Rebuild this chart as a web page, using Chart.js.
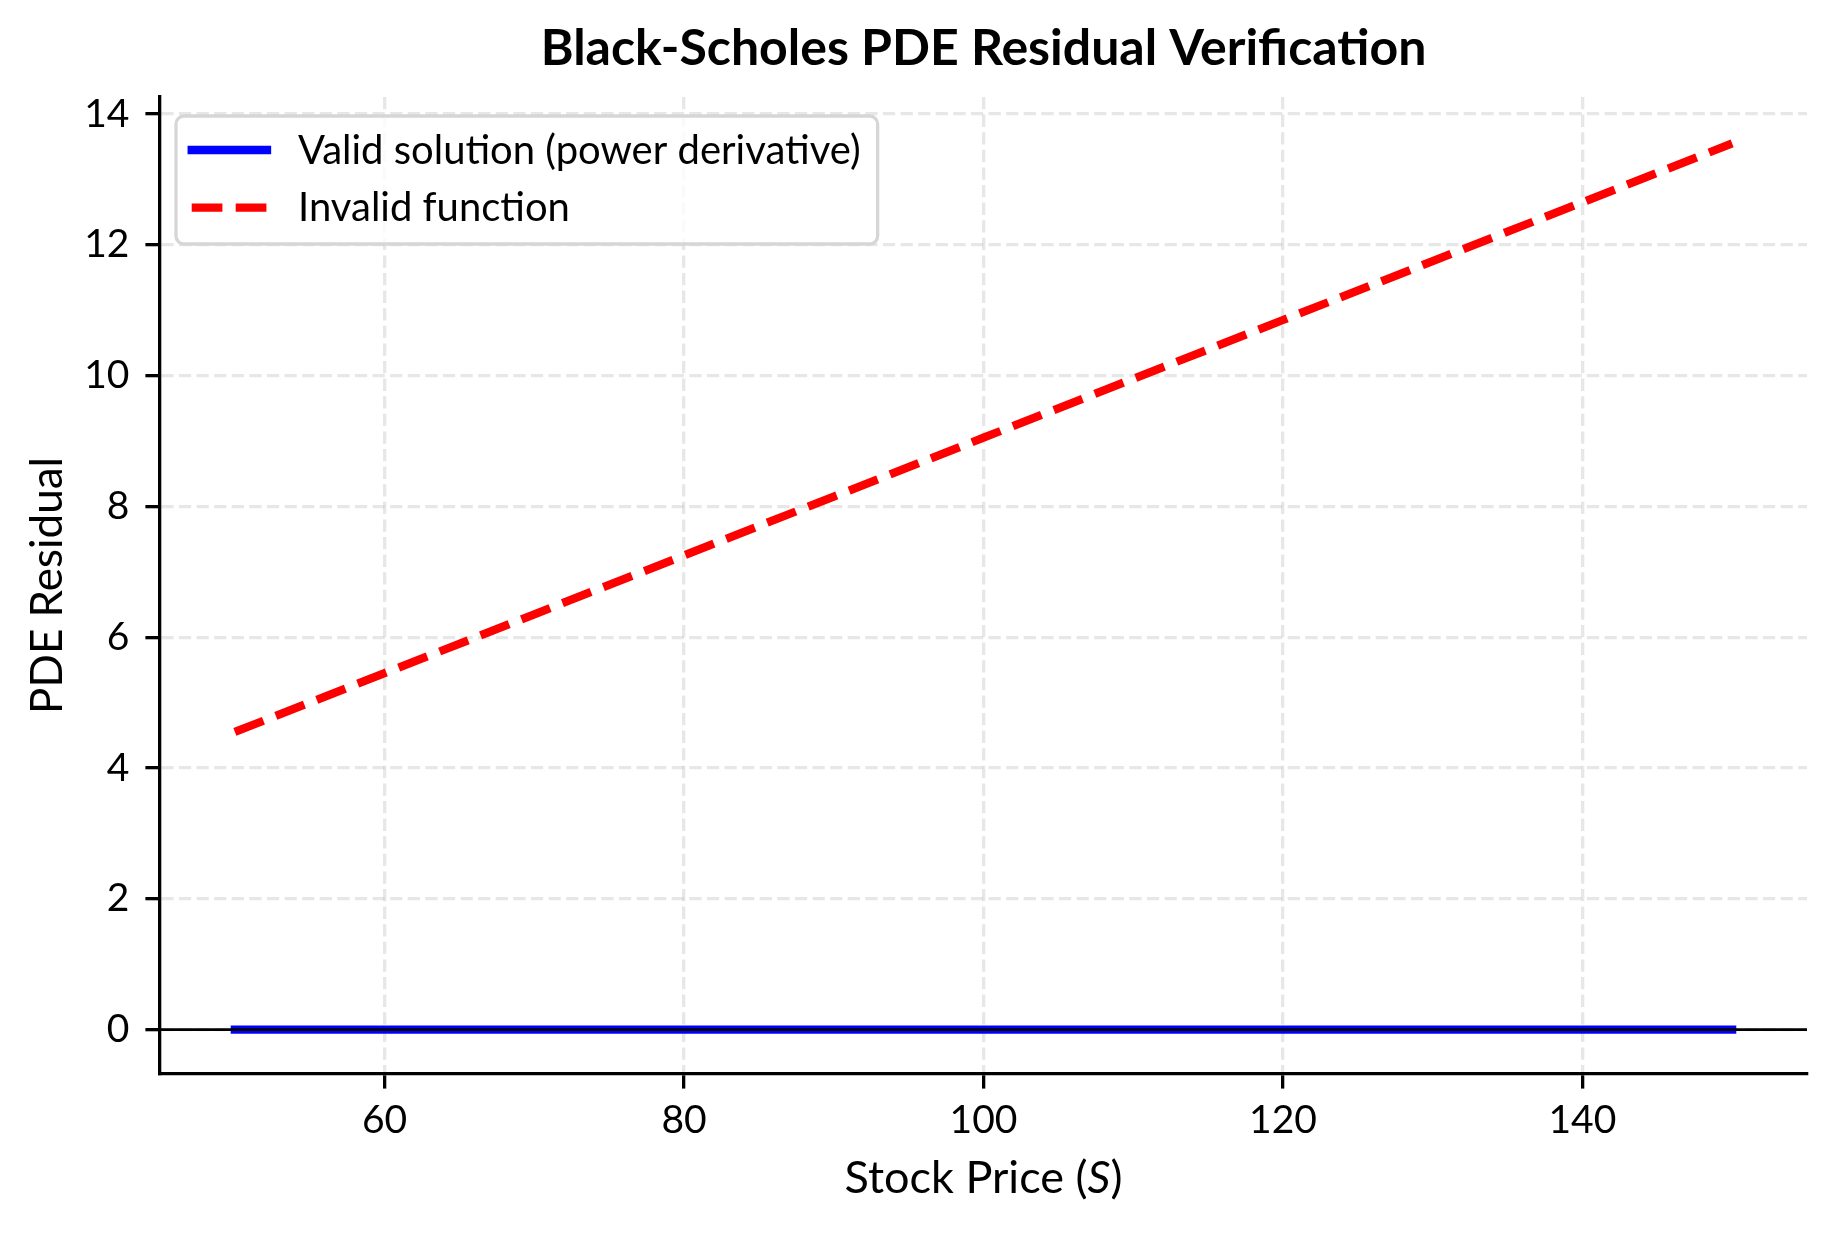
<!DOCTYPE html>
<html>
<head>
<meta charset="utf-8">
<title>Black-Scholes PDE Residual Verification</title>
<script src="https://cdn.jsdelivr.net/npm/chart.js@4.4.0/dist/chart.umd.min.js"></script>
<style>
  html, body { margin: 0; padding: 0; background: #fff; }
  canvas { display: block; }
</style>
</head>
<body>
<canvas id="grafico" width="1834" height="1234"></canvas>
<script>
// dados
const stockPrices = [50, 60, 70, 80, 90, 100, 110, 120, 130, 140, 150];
const validResidual = [0, 0, 0, 0, 0, 0, 0, 0, 0, 0, 0];
const invalidResidual = [4.55, 5.45, 6.35, 7.25, 8.15, 9.05, 9.95, 10.85, 11.75, 12.65, 13.55];
const xTicks = [60, 80, 100, 120, 140];
const yTicks = [0, 2, 4, 6, 8, 10, 12, 14];
const seriesLabels = ["Valid solution (power derivative)", "Invalid function"];
const chartTitle = "Black-Scholes PDE Residual Verification";
const xTitle = ["Stock Price (", "S", ")"];
const yTitle = "PDE Residual";

const FONT = 'Lato, "Noto Sans", sans-serif';
const LW = 8.3;            // largura das linhas (2pt)
const DASH = [30.7, 13.3]; // tracejado da linha vermelha

// textos, linha do zero e legenda
const extras = {
  id: "extras",
  afterDatasetsDraw(chart) {
    const ctx = chart.ctx;
    const area = chart.chartArea;
    const y0 = chart.scales.y.getPixelForValue(0);

    // linha horizontal em y = 0
    ctx.save();
    ctx.strokeStyle = "#000";
    ctx.lineWidth = 2.7;
    ctx.beginPath();
    ctx.moveTo(area.left, y0);
    ctx.lineTo(area.right, y0);
    ctx.stroke();
    ctx.restore();

    // legenda
    ctx.save();
    ctx.font = "40px " + FONT;
    const textX = 298;
    const maxW = Math.max(...seriesLabels.map((t) => ctx.measureText(t).width));
    const bx = 176, by = 116, bw = textX - bx + maxW + 17, bh = 128;
    ctx.beginPath();
    ctx.roundRect(bx, by, bw, bh, 8);
    ctx.fillStyle = "rgba(255,255,255,0.8)";
    ctx.fill();
    ctx.strokeStyle = "#d6d6d6";
    ctx.lineWidth = 3.3;
    ctx.stroke();

    const rows = [150, 207.7];
    chart.data.datasets.forEach((ds, i) => {
      ctx.save();
      ctx.strokeStyle = ds.borderColor;
      ctx.lineWidth = LW;
      ctx.lineCap = ds.borderCapStyle;
      ctx.setLineDash(ds.borderDash || []);
      ctx.beginPath();
      ctx.moveTo(191.7, rows[i]);
      ctx.lineTo(267, rows[i]);
      ctx.stroke();
      ctx.restore();
      ctx.fillStyle = "#000";
      ctx.textBaseline = "alphabetic";
      ctx.fillText(ds.label, textX, rows[i] + 13.7);
    });
    ctx.restore();
  },
  afterDraw(chart) {
    const ctx = chart.ctx;
    const area = chart.chartArea;
    const cx = (area.left + area.right) / 2;
    const cy = (area.top + area.bottom) / 2;
    ctx.save();
    ctx.fillStyle = "#000";
    ctx.textBaseline = "alphabetic";

    // titulo
    ctx.font = "bold 50px " + FONT;
    ctx.textAlign = "center";
    ctx.fillText(chartTitle, cx, 65);

    // titulo do eixo x com S em italico
    const fN = "45px " + FONT;
    const fI = "italic 45px " + FONT;
    ctx.textAlign = "left";
    const widths = xTitle.map((t, i) => {
      ctx.font = i === 1 ? fI : fN;
      return ctx.measureText(t).width;
    });
    let x = cx - widths.reduce((a, b) => a + b, 0) / 2;
    xTitle.forEach((t, i) => {
      ctx.font = i === 1 ? fI : fN;
      ctx.fillText(t, x, 1193);
      x += widths[i];
    });

    // titulo do eixo y
    ctx.font = "44px " + FONT;
    ctx.textAlign = "center";
    ctx.translate(62, cy);
    ctx.rotate(-Math.PI / 2);
    ctx.fillText(yTitle, 0, 0);
    ctx.restore();
  }
};

const ctx = document.getElementById("grafico").getContext("2d");
const chart = new Chart(ctx, {
  type: "line",
  data: {
    datasets: [
      {
        label: seriesLabels[0],
        data: stockPrices.map((s, i) => ({ x: s, y: validResidual[i] })),
        borderColor: "#0000ff",
        borderWidth: LW,
        borderCapStyle: "square",
        pointRadius: 0,
        fill: false,
        tension: 0,
      },
      {
        label: seriesLabels[1],
        data: stockPrices.map((s, i) => ({ x: s, y: invalidResidual[i] })),
        borderColor: "#ff0000",
        borderWidth: LW,
        borderDash: DASH,
        borderCapStyle: "butt",
        pointRadius: 0,
        fill: false,
        tension: 0,
      },
    ],
  },
  options: {
    responsive: false,
    animation: false,
    devicePixelRatio: 1,
    layout: { padding: { top: 97, right: 27, left: 0, bottom: 0 } },
    plugins: {
      legend: { display: false },
      title: { display: false },
      tooltip: { enabled: false },
    },
    scales: {
      x: {
        type: "linear",
        min: 45,
        max: 155,
        afterBuildTicks: (s) => { s.ticks = xTicks.map((v) => ({ value: v })); },
        afterFit: (s) => { s.height = 160; },
        ticks: { color: "#000", font: { family: FONT, size: 39 }, padding: 8, maxRotation: 0 },
        grid: {
          color: "rgba(176,176,176,0.3)",
          lineWidth: 3.3,
          tickColor: "#000",
          tickWidth: 3.3,
          tickLength: 14.6,
          tickBorderDash: [],
        },
        border: { color: "#000", width: 3.3, dash: [12.3, 5.3] },
      },
      y: {
        min: -0.68,
        max: 14.26,
        afterBuildTicks: (s) => { s.ticks = yTicks.map((v) => ({ value: v })); },
        afterFit: (s) => { s.width = 160; },
        ticks: { color: "#000", font: { family: FONT, size: 39 }, padding: 16 },
        grid: {
          color: "rgba(176,176,176,0.3)",
          lineWidth: 3.3,
          tickColor: "#000",
          tickWidth: 3.3,
          tickLength: 14.6,
          tickBorderDash: [],
        },
        border: { color: "#000", width: 3.3, dash: [12.3, 5.3] },
      },
    },
  },
  plugins: [extras],
});
</script>
</body>
</html>
